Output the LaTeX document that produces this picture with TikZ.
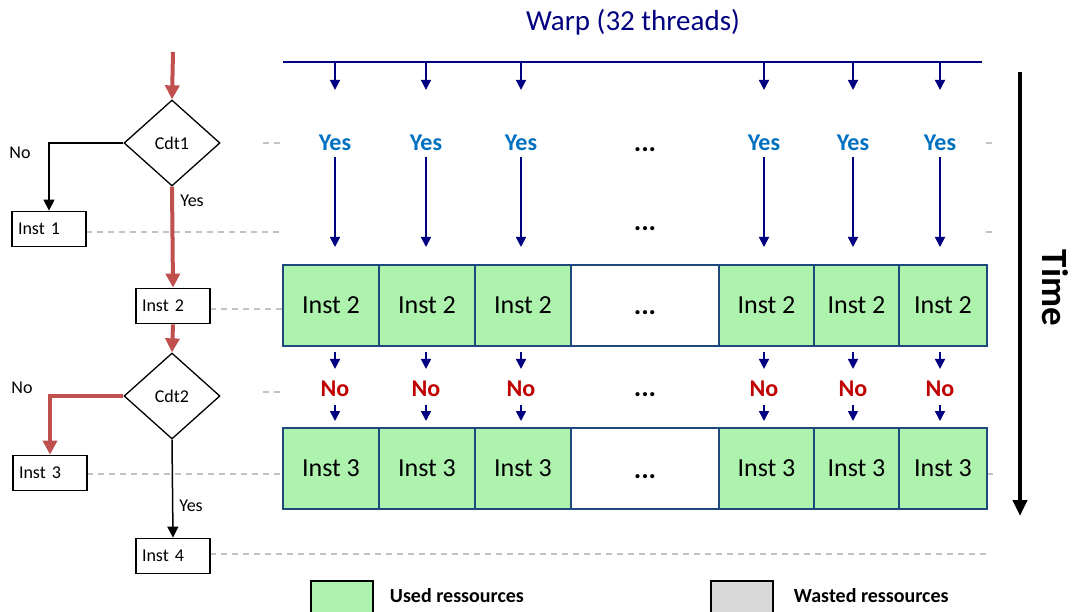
\documentclass[tikz,border=0pt]{standalone}
\usepackage{fontspec}
\setmainfont{Carlito}
\usetikzlibrary{arrows.meta,shapes.geometric,positioning}
\definecolor{warpblue}{RGB}{0,0,128}
\definecolor{yesblue}{RGB}{0,112,192}
\definecolor{nored}{RGB}{192,0,0}
\definecolor{pathred}{RGB}{192,80,77}
\definecolor{cellgreen}{RGB}{173,242,173}
\definecolor{cellborder}{RGB}{31,73,125}
\definecolor{wastegray}{RGB}{217,217,217}
\definecolor{guidegray}{RGB}{195,195,195}
\tikzset{
  flowbox/.style={draw=black, line width=1.8pt, fill=white, minimum width=74pt,
    minimum height=35pt, text width=62pt, inner xsep=6pt, inner ysep=0pt,
    align=left, font=\fontsize{18}{20}\selectfont},
  cond/.style={diamond, draw=black, line width=1.3pt, fill=white, minimum width=96pt,
    minimum height=86pt, inner sep=0pt, font=\fontsize{18}{20}\selectfont},
  flowlabel/.style={inner sep=0pt, font=\fontsize{18}{20}\selectfont},
  taken/.style={draw=pathred, line width=4pt, -{Triangle[length=14pt,width=14pt]}},
  branch/.style={draw=black, line width=1.5pt, -{Triangle[length=11pt,width=11pt]}},
  guide/.style={draw=guidegray, line width=1.2pt, dash pattern=on 6pt off 5pt},
  cell/.style={draw=cellborder, line width=2pt, fill=cellgreen, minimum height=81pt,
    inner sep=0pt, font=\fontsize{26}{28}\selectfont},
  yeslbl/.style={inner sep=0pt, text=yesblue, font=\bfseries\fontsize{24}{26}\selectfont},
  nolbl/.style={inner sep=0pt, text=nored, font=\bfseries\fontsize{24}{26}\selectfont},
  dotslbl/.style={inner sep=0pt, font=\bfseries\fontsize{28}{30}\selectfont},
  thread/.style={draw=warpblue, line width=1.7pt, -{Triangle[length=10pt,width=10pt]}},
  legendkey/.style={draw=black, line width=1.5pt, minimum width=62pt, minimum height=34pt, inner sep=0pt},
  legendtext/.style={inner sep=0pt, font=\bfseries\fontsize{20}{22}\selectfont}
}
\begin{document}
\begin{tikzpicture}[x=1pt, y=-1pt]
\useasboundingbox[fill=white] (0,0) rectangle (1078,612);

\draw[guide] (263,143) -- (281,143);
\draw[guide] (986,143) -- (992,143);
\draw[guide] (86,232) -- (283,232);
\draw[guide] (986,232) -- (992,232);
\draw[guide] (210,309) -- (283,309);
\draw[guide] (263,392) -- (281,392);
\draw[guide] (87,474) -- (283,474);
\draw[guide] (987,474) -- (996,474);
\draw[guide] (210,554) -- (990,554);

\node[text=warpblue, font=\fontsize{29}{32}\selectfont] (title) at (633,22) {Warp (32 threads)};
\coordinate (wl) at (283,62);
\coordinate (wr) at (982,62);
\draw[warpblue, line width=2.5pt] (wl) -- (wr);

\coordinate (start) at (173,52);
\node[cond] (cdt1) at (172,143) {Cdt1};
\node[flowbox] (inst1) at (49,229) {Inst 1};
\node[flowbox] (inst2) at (173,306) {Inst 2};
\node[cond] (cdt2) at (172,396) {Cdt2};
\node[flowbox] (inst3) at (50,473) {Inst 3};
\node[flowbox] (inst4) at (173,556) {Inst 4};
\node[flowlabel] (no1) at (20,153) {No};
\node[flowlabel] (yes1) at (192,201) {Yes};
\node[flowlabel] (no2) at (22,388) {No};
\node[flowlabel] (yes2) at (191,506) {Yes};

\draw[taken] (start) -- (cdt1.north);
\draw[taken] (cdt1.south) -- (inst2.north);
\draw[taken] (inst2.south) -- (cdt2.north);
\draw[taken] (cdt2.west) -| (inst3.north);
\draw[branch] (cdt1.west) -| (inst1.north);
\draw[branch] (cdt2.south) -- (inst4.north);

\foreach \x/\w/\i in {331/96/1, 427/96/2, 523/96/3, 766.5/95/4, 856.5/85/5, 943/88/6}{
    \node[cell, minimum width=\w pt] (a\i) at (\x,305.5) {Inst 2};
    \node[cell, minimum width=\w pt] (b\i) at (\x,468.5) {Inst 3};
}
\node[cell, fill=white, minimum width=148pt] (agap) at (645,305.5) {};
\node[cell, fill=white, minimum width=148pt] (bgap) at (645,468.5) {};
\node[dotslbl] (dotsa) at (645,313) {...};
\node[dotslbl] (dotsb) at (645,477) {...};
\node[dotslbl] (dotsyes) at (645,150) {...};
\node[dotslbl] (dotsmid) at (645,229) {...};
\node[dotslbl] (dotsno) at (645,395) {...};

\foreach \x [count=\i] in {335,426,521,764,853,940}{
    \coordinate (w\i) at (\x,62);
    \node[yeslbl] (yes\i) at (\x,143) {Yes};
    \node[nolbl] (no\i) at (\x,389) {No};
    \draw[thread, shorten >=45pt] (w\i) -- (yes\i);
    \draw[thread, shorten <=6pt, shorten >=17pt] (yes\i) -- (yes\i |- a\i.north);
    \draw[thread, shorten <=5pt, shorten >=12pt] (no\i |- a\i.south) -- (no\i);
    \draw[thread, shorten <=8pt, shorten >=6pt] (no\i) -- (no\i |- b\i.north);
}

\coordinate (ttop) at (1020,72);
\coordinate (tbot) at (1020,516);
\draw[line width=4pt, -{Triangle[length=16pt,width=14pt]}] (ttop) -- (tbot);
\node[rotate=-90, font=\bfseries\fontsize{37}{40}\selectfont] (time) at (1055,288) {Time};

\node[legendkey, fill=cellgreen] (usedkey) at (342,598) {};
\node[legendtext, right=16pt of usedkey, yshift=2pt] (usedtext) {Used ressources};
\node[legendkey, fill=wastegray] (wastedkey) at (742,598) {};
\node[legendtext, right=20pt of wastedkey, yshift=2pt] (wastedtext) {Wasted ressources};
\end{tikzpicture}
\end{document}
